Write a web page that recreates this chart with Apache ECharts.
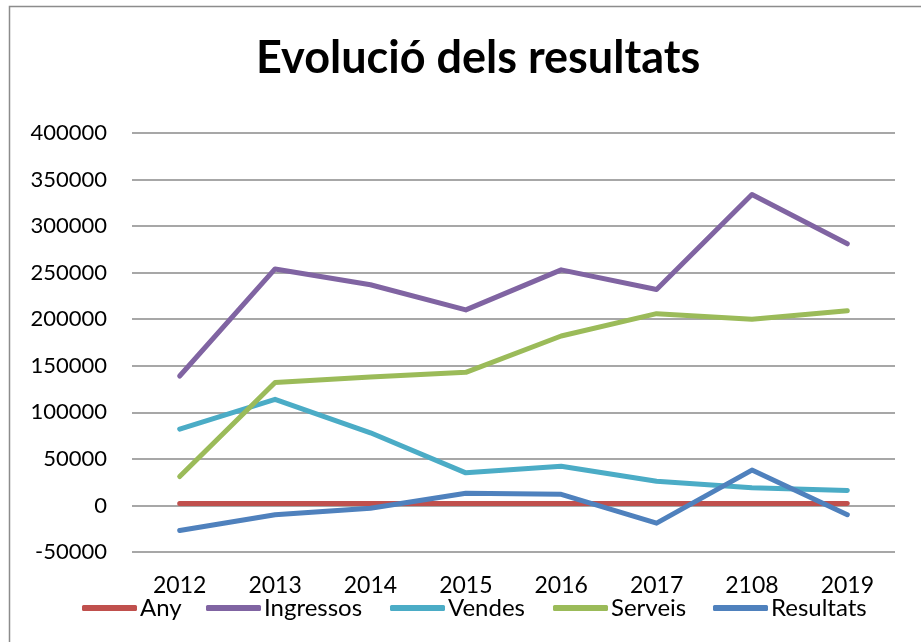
<!DOCTYPE html>
<html>
<head>
<meta charset="utf-8">
<script src="https://cdn.jsdelivr.net/npm/echarts@6/dist/echarts.min.js"></script>
<style>
  html, body { margin: 0; padding: 0; background: #fff; }
  #chart { width: 921px; height: 642px; }
</style>
</head>
<body>
<div id="chart"></div>
<script>
// categories (the "2108" label is as written in the source chart)
const years = ['2012', '2013', '2014', '2015', '2016', '2017', '2108', '2019']
const anyData = [2012, 2013, 2014, 2015, 2016, 2017, 2108, 2019]
const ingressos = [139000, 254000, 237000, 210000, 253000, 232000, 334000, 281000]
const vendes = [82000, 114000, 78000, 35000, 42000, 26000, 19000, 16000]
const serveis = [31000, 132000, 138000, 143000, 182000, 206000, 200000, 209000]
const resultats = [-27000, -10000, -3000, 13000, 12000, -19000, 38000, -10000]
const seriesNames = ['Any', 'Ingressos', 'Vendes', 'Serveis', 'Resultats']

const font = 'Lato, "Open Sans", sans-serif'
// x position of each legend entry, as in the original layout
const legendLeft = [82, 206, 390, 553, 713]

function line(name, data, color) {
  return {
    name,
    type: 'line',
    data,
    symbol: 'none',
    lineStyle: { width: 5, color, cap: 'round', join: 'round' },
    itemStyle: { color }
  }
}

const legends = seriesNames.map((name, i) => ({
  top: 596,
  left: legendLeft[i],
  padding: 0,
  icon: 'roundRect',
  itemWidth: 55,
  itemHeight: 6,
  textStyle: { fontSize: 24, color: '#000', padding: [0, 0, 0, -2] },
  data: [name]
}))

const chart = echarts.init(document.getElementById('chart'))
chart.setOption({
  animation: false,
  textStyle: { fontFamily: font },
  title: {
    text: 'Evolució dels resultats',
    left: 251,
    top: 31,
    textStyle: { fontSize: 45, fontWeight: 'bold', color: '#000', fontFamily: font }
  },
  graphic: [
    {
      type: 'rect',
      shape: { x: 9.5, y: 6.5, width: 940, height: 660 },
      style: { fill: 'none', stroke: '#8c8c8c', lineWidth: 1.5 },
      silent: true
    }
  ],
  legend: legends,
  grid: { left: 132, right: 26, top: 133, bottom: 90 },
  xAxis: {
    type: 'category',
    data: years,
    axisLine: { show: false },
    axisTick: { show: false },
    axisLabel: { fontSize: 23, color: '#000', margin: 22 }
  },
  yAxis: {
    type: 'value',
    min: -50000,
    max: 400000,
    interval: 50000,
    axisLine: { show: false },
    axisTick: { show: false },
    axisLabel: { fontSize: 22, color: '#000', margin: 25, formatter: (v) => String(v) },
    splitLine: { lineStyle: { color: '#8a8a8a', width: 1.5 } }
  },
  series: [
    line('Any', anyData, '#C0504D'),
    line('Ingressos', ingressos, '#8064A2'),
    line('Vendes', vendes, '#4BACC6'),
    line('Serveis', serveis, '#9BBB59'),
    line('Resultats', resultats, '#4F81BD')
  ]
})
</script>
</body>
</html>
